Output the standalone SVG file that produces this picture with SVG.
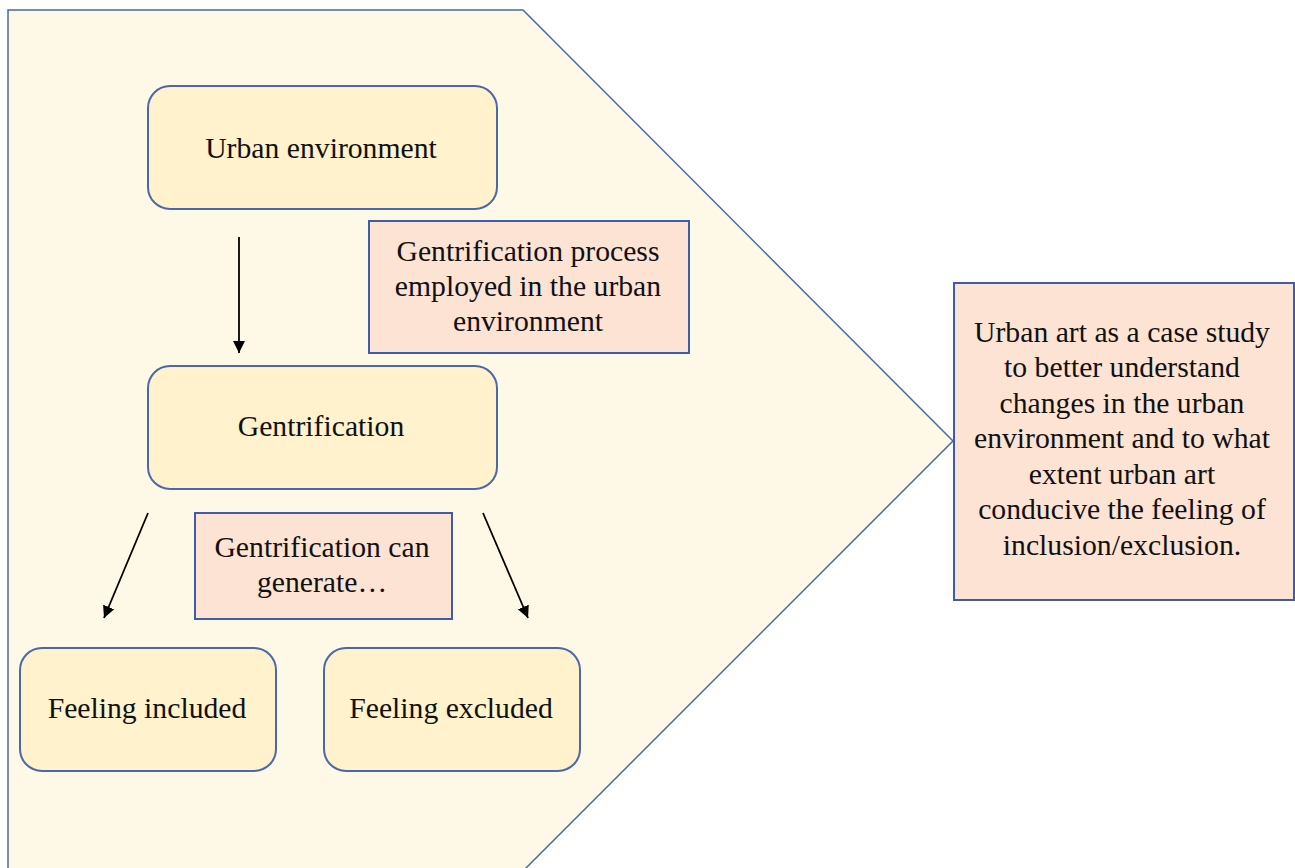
<svg xmlns="http://www.w3.org/2000/svg" width="1295" height="868" viewBox="0 0 1295 868">
<style>
.bg{fill:#fef8e6;stroke:#4a68ad;stroke-width:1.5}
.rnd{fill:#fff2cc;stroke:#4a68ad;stroke-width:2}
.pink{fill:#fde3d4;stroke:#3f5ca8;stroke-width:2}
.t{font-family:'Liberation Serif','Times New Roman',serif;font-size:29.7px;fill:#111;text-anchor:middle}
.c{stroke:#000;stroke-width:1.8;fill:none}
</style>
<defs>
<marker id="ah" markerWidth="12" markerHeight="12" refX="10" refY="5" orient="auto" markerUnits="userSpaceOnUse" viewBox="0 0 10 10">
<path d="M0,0 L10,5 L0,10 z" fill="#000"/>
</marker>
</defs>
<g id="frame">
<path class="bg" d="M8,10 L523,10 L953,441 L522,872 L8,872 Z"/>
</g>
<g id="connectors">
<line class="c" x1="239" y1="237" x2="239" y2="353" marker-end="url(#ah)"/>
<line class="c" x1="148" y1="513" x2="104" y2="618" marker-end="url(#ah)"/>
<line class="c" x1="483" y1="513" x2="528" y2="618" marker-end="url(#ah)"/>
</g>
<g id="n-urban">
<rect class="rnd" x="148" y="86" width="349" height="123" rx="22"/>
<text class="t" x="321" y="158">Urban environment</text>
</g>
<g id="n-process">
<rect class="pink" x="369" y="221" width="320" height="132"/>
<text class="t" x="528" y="261">Gentrification process</text>
<text class="t" x="528" y="296">employed in the urban</text>
<text class="t" x="528" y="331">environment</text>
</g>
<g id="n-gentrification">
<rect class="rnd" x="148" y="366" width="349" height="123" rx="22"/>
<text class="t" x="321" y="436">Gentrification</text>
</g>
<g id="n-generate">
<rect class="pink" x="195" y="513" width="257" height="106"/>
<text class="t" x="322" y="557">Gentrification can</text>
<text class="t" x="322" y="592">generate…</text>
</g>
<g id="n-included">
<rect class="rnd" x="20" y="648" width="256" height="123" rx="22"/>
<text class="t" x="147" y="718">Feeling included</text>
</g>
<g id="n-excluded">
<rect class="rnd" x="324" y="648" width="256" height="123" rx="22"/>
<text class="t" x="451" y="718">Feeling excluded</text>
</g>
<g id="n-case">
<rect class="pink" x="954" y="283" width="340" height="317"/>
<text class="t" x="1122" y="342">Urban art as a case study</text>
<text class="t" x="1122" y="377">to better understand</text>
<text class="t" x="1122" y="413">changes in the urban</text>
<text class="t" x="1122" y="448">environment and to what</text>
<text class="t" x="1122" y="484">extent urban art</text>
<text class="t" x="1122" y="519">conducive the feeling of</text>
<text class="t" x="1122" y="555">inclusion/exclusion.</text>
</g>
</svg>
